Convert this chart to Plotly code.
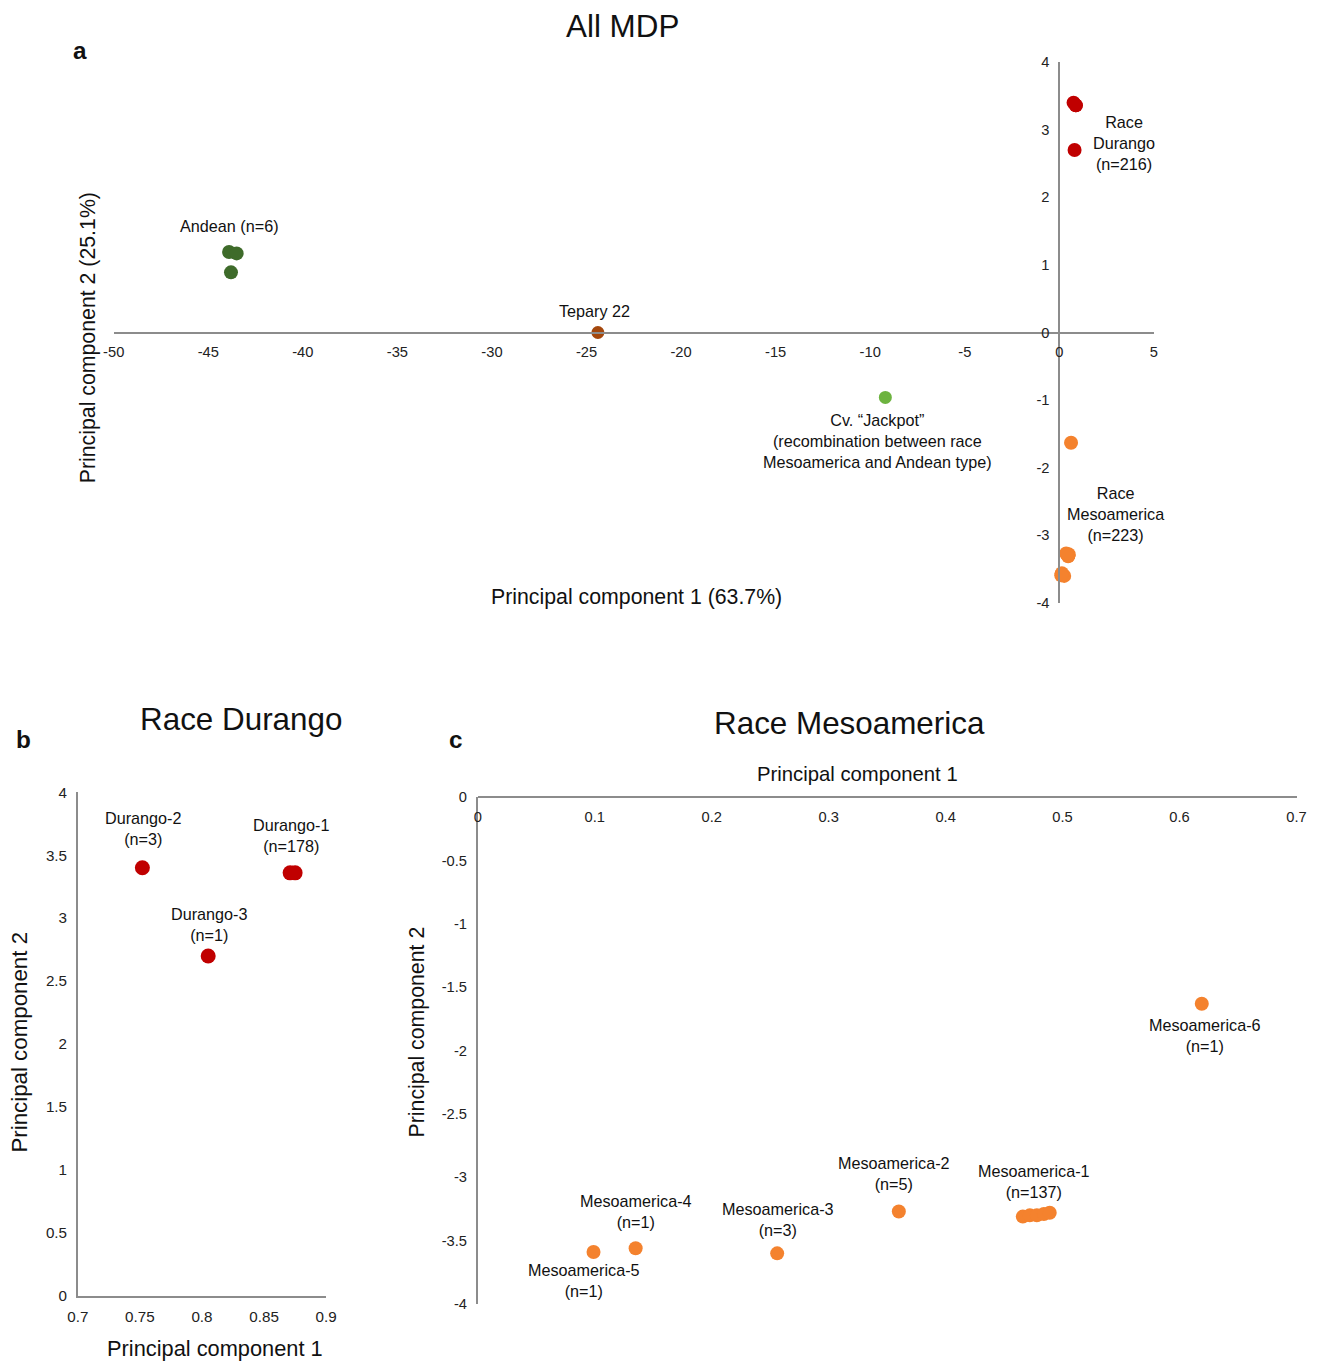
import plotly.graph_objects as go

W, H = 1320, 1364
# measured mapping from figure pixels to the photographed page: screen = A + S * fig
A, S = 9.0, 0.986

# ---------------- data ----------------
andean_x = [-43.9, -43.5, -43.8]
andean_y = [1.19, 1.17, 0.89]
tepary_x = [-24.4]
tepary_y = [0.0]
jackpot_x = [-9.2]
jackpot_y = [-0.96]

durango_x = [0.752, 0.871, 0.875, 0.805]
durango_y = [3.40, 3.36, 3.36, 2.70]

meso_x = [0.619, 0.466, 0.472, 0.478, 0.484, 0.489, 0.360, 0.256, 0.135, 0.099]
meso_y = [-1.63, -3.31, -3.30, -3.30, -3.29, -3.28, -3.27, -3.60, -3.56, -3.59]

a_xticks = [-50, -45, -40, -35, -30, -25, -20, -15, -10, -5, 0, 5]
a_yticks = [-4, -3, -2, -1, 0, 1, 2, 3, 4]
b_xticks = [0.7, 0.75, 0.8, 0.85, 0.9]
b_yticks = [0, 0.5, 1, 1.5, 2, 2.5, 3, 3.5, 4]
c_xticks = [0, 0.1, 0.2, 0.3, 0.4, 0.5, 0.6, 0.7]
c_yticks = [0, -0.5, -1, -1.5, -2, -2.5, -3, -3.5, -4]

RED = "#C00000"
ORANGE = "#F4822E"
DKGREEN = "#3E6B2A"
LTGREEN = "#6DB33F"
BROWN = "#A4470C"

FONT = "Liberation Sans, Arial, sans-serif"


def px(x):
    return min(1.0, max(0.0, ((x - A) / S) / W))


def py(y):
    return min(1.0, max(0.0, 1 - ((y - A) / S) / H))


def fs(v):
    return round(v / S, 1)


def lab(v):
    return "%g" % v


fig = go.Figure()

# panel a
fig.add_trace(go.Scatter(x=andean_x, y=andean_y, mode="markers", xaxis="x", yaxis="y",
                         marker=dict(color=DKGREEN, size=14)))
fig.add_trace(go.Scatter(x=tepary_x, y=tepary_y, mode="markers", xaxis="x", yaxis="y",
                         marker=dict(color=BROWN, size=13)))
fig.add_trace(go.Scatter(x=jackpot_x, y=jackpot_y, mode="markers", xaxis="x", yaxis="y",
                         marker=dict(color=LTGREEN, size=13)))
fig.add_trace(go.Scatter(x=durango_x, y=durango_y, mode="markers", xaxis="x", yaxis="y",
                         marker=dict(color=RED, size=14)))
fig.add_trace(go.Scatter(x=meso_x, y=meso_y, mode="markers", xaxis="x", yaxis="y",
                         marker=dict(color=ORANGE, size=14)))
# panel b
fig.add_trace(go.Scatter(x=durango_x, y=durango_y, mode="markers", xaxis="x2", yaxis="y2",
                         marker=dict(color=RED, size=15)))
# panel c
fig.add_trace(go.Scatter(x=meso_x, y=meso_y, mode="markers", xaxis="x3", yaxis="y3",
                         marker=dict(color=ORANGE, size=14)))

AXC = "#8c8c8c"
tickfont_n = dict(family=FONT, size=fs(14.5), color="#222")
tickfont_w = dict(family=FONT, size=fs(15), color="#222")

common = dict(showgrid=False, zeroline=False, showline=True, linecolor=AXC, linewidth=1.5,
              ticks="outside", ticklen=6, tickcolor="rgba(0,0,0,0)", fixedrange=True)

fig.update_layout(
    width=W, height=H, margin=dict(l=0, r=0, t=0, b=0),
    paper_bgcolor="white", plot_bgcolor="white", showlegend=False,
    xaxis=dict(domain=[px(112), px(1155)], range=[-50, 5], anchor="free", position=py(332),
               tickvals=a_xticks, ticktext=[lab(v) for v in a_xticks], tickfont=tickfont_n, **common),
    yaxis=dict(domain=[py(602), py(62)], range=[-4, 4], anchor="free", position=px(1060),
               tickvals=a_yticks, ticktext=[lab(v) for v in a_yticks], tickfont=tickfont_n, **common),
    xaxis2=dict(domain=[px(76), px(325)], range=[0.7, 0.9], anchor="y2",
                tickvals=b_xticks, ticktext=[lab(v) for v in b_xticks], tickfont=tickfont_w, **common),
    yaxis2=dict(domain=[py(1294), py(791)], range=[0, 4], anchor="x2",
                tickvals=b_yticks, ticktext=[lab(v) for v in b_yticks], tickfont=tickfont_w, **common),
    xaxis3=dict(domain=[px(477), px(1298)], range=[0, 0.7], anchor="free", position=py(796),
                side="bottom",
                tickvals=c_xticks, ticktext=[lab(v) for v in c_xticks], tickfont=tickfont_n, **common),
    yaxis3=dict(domain=[py(1302), py(796)], range=[-4, 0], anchor="x3",
                tickvals=c_yticks, ticktext=[lab(v) for v in c_yticks], tickfont=tickfont_n, **common),
)


def note(text, x, y, size=15, angle=0, bold=False, color="#111"):
    if bold:
        text = "<b>" + text + "</b>"
    fig.add_annotation(text=text, x=px(x), y=py(y), xref="paper", yref="paper",
                       showarrow=False, xanchor="center", yanchor="middle",
                       textangle=angle, font=dict(family=FONT, size=fs(size), color=color))


# titles & panel letters
note("All MDP", 622, 26, size=31)
note("a", 78, 50, size=24, bold=True)
note("Race Durango", 240, 718, size=31)
note("b", 22, 738, size=24, bold=True)
note("Race Mesoamerica", 850, 722, size=31)
note("c", 455, 738, size=24, bold=True)

# axis titles
note("Principal component 1 (63.7%)", 636, 596, size=21)
note("Principal component 2 (25.1%)", 86, 337, size=21, angle=-90)
note("Principal component 1", 214, 1346, size=21.5)
note("Principal component 2", 18, 1040, size=22, angle=-90)
note("Principal component 1", 858, 773, size=20)
note("Principal component 2", 416, 1030, size=21, angle=-90)

# panel a labels
note("Andean (n=6)", 228, 226, size=16)
note("Tepary 22", 594, 311, size=16)
note("Cv. \u201cJackpot\u201d<br>(recombination between race<br>Mesoamerica and Andean type)", 878, 440, size=16)
note("Race<br>Durango<br>(n=216)", 1125, 143, size=16)
note("Race<br>Mesoamerica<br>(n=223)", 1116, 513, size=16)

# panel b labels
note("Durango-2<br>(n=3)", 142, 827, size=16)
note("Durango-1<br>(n=178)", 290, 834, size=16)
note("Durango-3<br>(n=1)", 208, 923, size=16)

# panel c labels
note("Mesoamerica-6<br>(n=1)", 1206, 1034, size=16)
note("Mesoamerica-1<br>(n=137)", 1035, 1180, size=16)
note("Mesoamerica-2<br>(n=5)", 894, 1172, size=16)
note("Mesoamerica-3<br>(n=3)", 778, 1218, size=16)
note("Mesoamerica-4<br>(n=1)", 636, 1210, size=16)
note("Mesoamerica-5<br>(n=1)", 584, 1279, size=16)

fig.write_html("out.html")
